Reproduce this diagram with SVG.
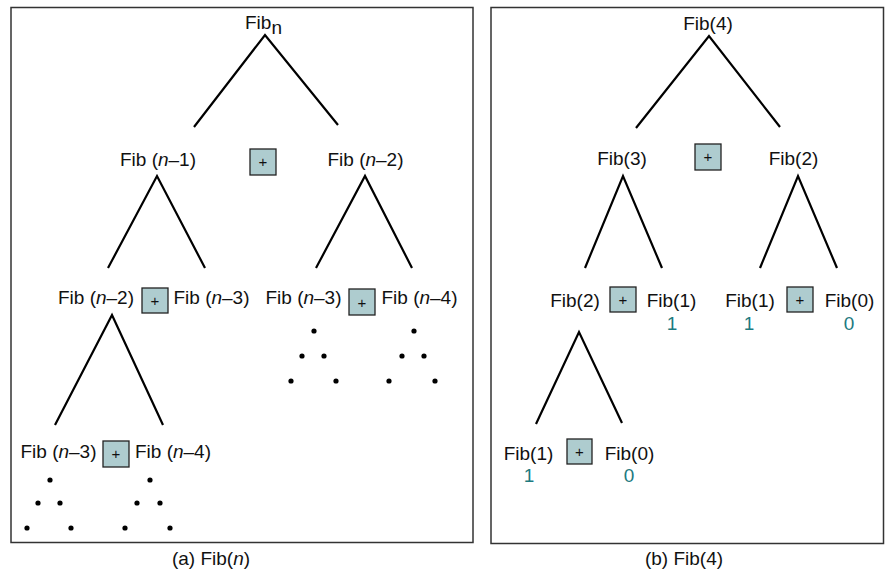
<svg xmlns="http://www.w3.org/2000/svg" width="885" height="570" viewBox="0 0 885 570">
<style>
text{font-family:"Liberation Sans",Arial,sans-serif;font-size:19px;fill:#111}
.c{text-anchor:middle}
.v{fill:#1d7a80}
.i{font-style:italic}
.frame{fill:none;stroke:#333;stroke-width:1.5}
.op{fill:#aecccf;stroke:#222;stroke-width:1.3}
.opt{font-size:15px;text-anchor:middle}
.edge{stroke:#000;stroke-width:2.2;fill:none}
.dot{fill:#000}
</style>
<rect width="885" height="570" fill="#fff"/>
<rect class="frame" x="11" y="7.5" width="462" height="535"/>
<rect class="frame" x="491" y="7.5" width="392.5" height="536"/>

<g id="connectors">
  <path class="edge" d="M194,127 L265,35 L338,125"/>
  <path class="edge" d="M108,268 L157,176 L205,268"/>
  <path class="edge" d="M316,268 L365,176 L412,268"/>
  <path class="edge" d="M55,425 L112,315 L163,425"/>
  <path class="edge" d="M636,128 L709,36 L780,127"/>
  <path class="edge" d="M585,268 L623,176 L662,268"/>
  <path class="edge" d="M760,268 L798,176 L837,268"/>
  <path class="edge" d="M536,424 L579,332 L622,423"/>
</g>

<g id="dots">
  <circle class="dot" cx="314" cy="331" r="2.6"/><circle class="dot" cx="302" cy="356" r="2.6"/><circle class="dot" cx="324" cy="356" r="2.6"/><circle class="dot" cx="291" cy="381" r="2.6"/><circle class="dot" cx="336" cy="381" r="2.6"/>
  <circle class="dot" cx="414" cy="331" r="2.6"/><circle class="dot" cx="402" cy="356" r="2.6"/><circle class="dot" cx="424" cy="356" r="2.6"/><circle class="dot" cx="389" cy="381" r="2.6"/><circle class="dot" cx="435" cy="381" r="2.6"/>
  <circle class="dot" cx="50" cy="480" r="2.6"/><circle class="dot" cx="38" cy="503" r="2.6"/><circle class="dot" cx="60" cy="503" r="2.6"/><circle class="dot" cx="27" cy="528" r="2.6"/><circle class="dot" cx="71" cy="528" r="2.6"/>
  <circle class="dot" cx="150" cy="480" r="2.6"/><circle class="dot" cx="137" cy="503" r="2.6"/><circle class="dot" cx="160" cy="503" r="2.6"/><circle class="dot" cx="125" cy="528" r="2.6"/><circle class="dot" cx="170" cy="528" r="2.6"/>
</g>

<g id="n-fibn"><text x="245" y="29">Fib<tspan dy="5">n</tspan></text></g>
<g id="n-fibn1"><text class="c" x="158" y="166">Fib (<tspan class="i">n</tspan>–1)</text></g>
<g id="op-a1"><rect class="op" x="250" y="149" width="26" height="26"/><text class="opt" x="263" y="167">+</text></g>
<g id="n-fibn2"><text class="c" x="365.5" y="166">Fib (<tspan class="i">n</tspan>–2)</text></g>

<g id="n-a-l3-1"><text class="c" x="96" y="304">Fib (<tspan class="i">n</tspan>–2)</text></g>
<g id="op-a2"><rect class="op" x="142" y="288" width="26" height="25"/><text class="opt" x="155" y="306">+</text></g>
<g id="n-a-l3-2"><text class="c" x="211.5" y="304">Fib (<tspan class="i">n</tspan>–3)</text></g>
<g id="n-a-l3-3"><text class="c" x="303.5" y="304">Fib (<tspan class="i">n</tspan>–3)</text></g>
<g id="op-a3"><rect class="op" x="349" y="289" width="26" height="26"/><text class="opt" x="362" y="308">+</text></g>
<g id="n-a-l3-4"><text class="c" x="419.5" y="304">Fib (<tspan class="i">n</tspan>–4)</text></g>

<g id="n-a-l4-1"><text class="c" x="58.5" y="458">Fib (<tspan class="i">n</tspan>–3)</text></g>
<g id="op-a4"><rect class="op" x="103" y="441" width="26" height="26"/><text class="opt" x="116" y="459">+</text></g>
<g id="n-a-l4-2"><text class="c" x="173" y="458">Fib (<tspan class="i">n</tspan>–4)</text></g>

<g id="n-fib4"><text class="c" x="708" y="30">Fib(4)</text></g>
<g id="n-fib3"><text class="c" x="622" y="165">Fib(3)</text></g>
<g id="op-b1"><rect class="op" x="695" y="144" width="26" height="26"/><text class="opt" x="708" y="162">+</text></g>
<g id="n-fib2a"><text class="c" x="793.5" y="165">Fib(2)</text></g>

<g id="n-fib2b"><text class="c" x="575" y="307">Fib(2)</text></g>
<g id="op-b2"><rect class="op" x="610" y="287" width="26" height="25"/><text class="opt" x="623" y="305">+</text></g>
<g id="n-fib1a"><text class="c" x="671.5" y="307">Fib(1)</text><text class="c v" x="672" y="330">1</text></g>
<g id="n-fib1b"><text class="c" x="750" y="307">Fib(1)</text><text class="c v" x="749" y="330">1</text></g>
<g id="op-b3"><rect class="op" x="787" y="287" width="26" height="25"/><text class="opt" x="800" y="305">+</text></g>
<g id="n-fib0a"><text class="c" x="849.5" y="307">Fib(0)</text><text class="c v" x="849" y="330">0</text></g>

<g id="n-fib1c"><text class="c" x="528.5" y="460">Fib(1)</text><text class="c v" x="529" y="482">1</text></g>
<g id="op-b4"><rect class="op" x="567" y="439" width="25" height="25"/><text class="opt" x="579.5" y="457">+</text></g>
<g id="n-fib0b"><text class="c" x="629.5" y="460">Fib(0)</text><text class="c v" x="629" y="482">0</text></g>

<text class="c" x="211" y="565">(a) Fib(<tspan class="i">n</tspan>)</text>
<text class="c" x="684" y="565">(b) Fib(4)</text>
</svg>
